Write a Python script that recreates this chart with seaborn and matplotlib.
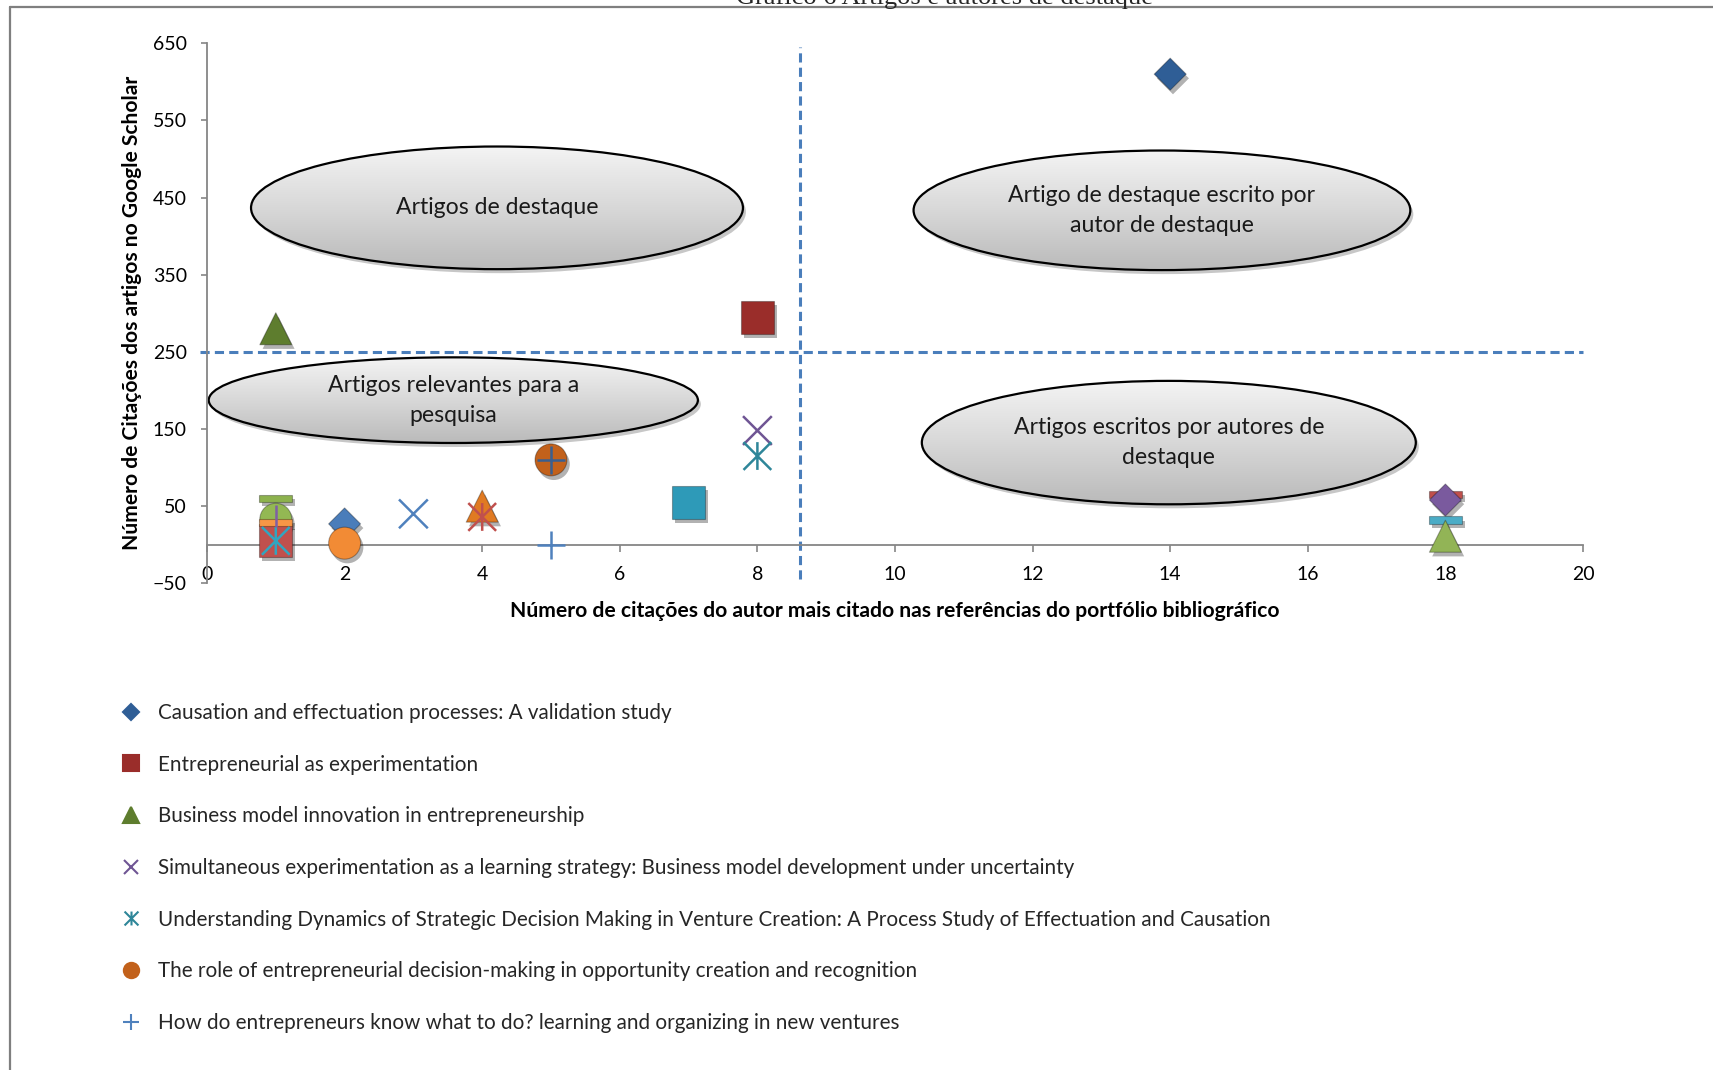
import numpy as np
import pandas as pd
import matplotlib
matplotlib.use("Agg")
import matplotlib.pyplot as plt
import seaborn as sns
from matplotlib.patches import Ellipse
from matplotlib.lines import Line2D
from matplotlib.markers import MarkerStyle
from matplotlib.path import Path
from matplotlib.colors import LinearSegmentedColormap
from matplotlib.transforms import offset_copy
import matplotlib.patheffects as pe

sns.set_theme(style="white")
plt.rcParams["font.family"] = ["Lato", "DejaVu Sans"]

# Títulos dos artigos mostrados na legenda
titulos = [
    "Causation and effectuation processes: A validation study",
    "Entrepreneurial as experimentation",
    "Business model innovation in entrepreneurship",
    "Simultaneous experimentation as a learning strategy: Business model development under uncertainty",
    "Understanding Dynamics of Strategic Decision Making in Venture Creation: A Process Study of Effectuation and Causation",
    "The role of entrepreneurial decision-making in opportunity creation and recognition",
    "How do entrepreneurs know what to do? learning and organizing in new ventures",
]

# Cada ponto é um artigo do portfólio (ordem de desenho: os últimos ficam por cima)
cit_autor = [14, 8, 1, 5, 18, 18, 18, 18, 7, 4, 2, 2, 1, 1, 1, 1,
             8, 8, 5, 3, 4, 5, 1, 1]
cit_google = [610, 295, 280, 110, 65, 58, 32, 11, 55, 50, 27, 2, 60, 33, 5, 29,
              148, 115, 0, 40, 36, 110, 5, 37]

# Marcador e cor de cada ponto
forma = ["losango", "quadrado", "triangulo", "circulo", "barra", "losango", "barra",
         "triangulo", "quadrado", "triangulo", "losango", "circulo", "barra", "circulo",
         "quadrado", "barra", "x", "estrela", "mais", "x", "estrela", "mais", "estrela",
         "traco"]
cor = ["#2F5E96", "#9A2D2A", "#5E7D2E", "#C2611B", "#C0504D", "#7A5A9E", "#4BACC6",
       "#92B456", "#2E9AB8", "#E07A22", "#4A7DBA", "#F28B35", "#8DB24E", "#93B853",
       "#C0504D", "#F79646", "#6F5594", "#2E8699", "#4F81BD", "#4F81BD", "#C0504D",
       "#3A5F8F", "#31A5C0", "#7F5FA5"]

# Ponto que representa cada título da legenda
ponto_legenda = [0, 1, 2, 16, 17, 3, 18]

# Limiares que dividem os quadrantes
LIMIAR_GOOGLE = 250
LIMIAR_AUTOR = 8.62

# Rótulos das regiões
regioes = ["Artigos de destaque",
           "Artigo de destaque escrito por\nautor de destaque",
           "Artigos relevantes para a\npesquisa",
           "Artigos escritos por autores de\ndestaque"]

# marcadores especiais
barra = MarkerStyle([(-1, -0.22), (1, -0.22), (1, 0.22), (-1, 0.22), (-1, -0.22)])
estrela_path = Path([(-1, -1), (1, 1), (-1, 1), (1, -1), (0, -1), (0, 1)],
                    [Path.MOVETO, Path.LINETO, Path.MOVETO, Path.LINETO,
                     Path.MOVETO, Path.LINETO])
estrela = MarkerStyle(estrela_path, fillstyle="none")

marcadores = {"losango": "D", "quadrado": "s", "triangulo": "^", "circulo": "o",
              "barra": barra, "x": "x", "mais": "+", "estrela": estrela, "traco": "|"}
tamanhos = {"losango": 265, "quadrado": 560, "triangulo": 530, "circulo": 530,
            "barra": 560, "x": 430, "mais": 400, "estrela": 400, "traco": 250}

W, H = 1713, 1070
fig = plt.figure(figsize=(W / 100, H / 100), dpi=100)
ax = fig.add_axes([207 / W, 1 - 583.3 / H, 1376 / W, 540 / H])

df = pd.DataFrame({"x": cit_autor, "y": cit_google, "forma": forma, "cor": cor})
cheios = ["losango", "quadrado", "triangulo", "circulo", "barra"]
df_cheio = df[df["forma"].isin(cheios)]
df_linha = df[~df["forma"].isin(cheios)]

# regiões em elipse com degradê cinza
cinza = LinearSegmentedColormap.from_list("cinza", ["#f4f4f4", "#d8d8d8", "#bababa"])
grad = np.linspace(0, 1, 256).reshape(-1, 1)
centros = [(4.215, 436.7, 7.15, 159), (13.88, 433.5, 7.22, 155),
           (3.58, 187.4, 7.11, 111), (13.98, 132.4, 7.18, 160)]
sombra_tr = offset_copy(ax.transData, fig=fig, x=3, y=-4, units="dots")
for (cx, cy, w, h), txt in zip(centros, regioes):
    ax.add_patch(Ellipse((cx, cy), w, h, transform=sombra_tr, facecolor="black",
                         alpha=0.22, lw=0, zorder=1))
    el = Ellipse((cx, cy), w, h, facecolor="none", edgecolor="black", lw=1.6, zorder=2.5)
    ax.add_patch(el)
    im = ax.imshow(grad, cmap=cinza, extent=(cx - w / 2, cx + w / 2, cy - h / 2, cy + h / 2),
                   aspect="auto", zorder=2, interpolation="bilinear")
    im.set_clip_path(el)
    ax.text(cx, cy, txt, ha="center", va="center", fontsize=16.6, linespacing=1.52,
            color="#1a1a1a", zorder=3)

# linhas de corte dos quadrantes
ax.plot([-0.1, 20.0], [LIMIAR_GOOGLE, LIMIAR_GOOGLE], ls=(0, (3, 1.7)), color="#4A7EBB",
        lw=2.2, clip_on=False, zorder=2)
ax.plot([LIMIAR_AUTOR, LIMIAR_AUTOR], [-45, 645], ls=(0, (3, 1.7)), color="#4A7EBB",
        lw=2.2, clip_on=False, zorder=2)

# pontos com marcador cheio
sns.scatterplot(data=df_cheio, x="x", y="y", hue="cor",
                palette={c: c for c in df_cheio["cor"]},
                style="forma", markers={k: marcadores[k] for k in cheios},
                size="forma", sizes={k: tamanhos[k] for k in cheios},
                edgecolor=(0, 0, 0, 0.3), linewidth=0.8, legend=False, ax=ax,
                zorder=4, clip_on=False)
ax.collections[-1].set_path_effects([
    pe.SimplePatchShadow(offset=(2, -3), shadow_rgbFace="black", alpha=0.3),
    pe.Normal()])

# pontos com marcador de traço
linhas = ["x", "mais", "estrela", "traco"]
sns.scatterplot(data=df_linha, x="x", y="y", hue="cor",
                palette={c: c for c in df_linha["cor"]},
                style="forma", style_order=linhas,
                markers={k: marcadores[k] for k in linhas},
                size="forma", sizes={k: tamanhos[k] for k in linhas},
                linewidth=1.8, legend=False, ax=ax, zorder=5, clip_on=False)

ax.set_xlim(0, 20)
ax.set_ylim(-50, 650)
ax.set_xticks(np.arange(0, 21, 2))
ax.set_yticks(np.arange(-50, 651, 100))

for s in ["top", "right"]:
    ax.spines[s].set_visible(False)
for s in ["left", "bottom"]:
    ax.spines[s].set_color("#868686")
    ax.spines[s].set_linewidth(1.3)
ax.spines["bottom"].set_position(("data", 0))
ax.tick_params(axis="both", bottom=True, left=True, direction="out", color="#868686",
               width=1.2, labelsize=14, labelcolor="black")
ax.tick_params(axis="x", length=5, pad=10.5)
ax.tick_params(axis="y", length=4.5, pad=10)

ax.set_xlabel("Número de citações do autor mais citado nas referências do portfólio bibliográfico",
              fontsize=15.2, fontweight="bold", color="black")
ax.set_ylabel("Número de Citações dos artigos no Google Scholar",
              fontsize=15.1, fontweight="bold", color="black")
ax.xaxis.set_label_coords(0.5, -0.033)
ax.yaxis.set_label_coords(-0.047, 0.5)

# legenda
handles = []
msz = {"losango": 8, "quadrado": 11, "triangulo": 11, "circulo": 11, "x": 10,
       "mais": 11, "estrela": 10}
for i in ponto_legenda:
    handles.append(Line2D([], [], linestyle="none", marker=marcadores[forma[i]],
                          color=cor[i], markersize=msz[forma[i]], markeredgewidth=1.5))
ax.legend(handles, titulos, loc="upper left", bbox_to_anchor=(120.6 / W, 1 - 703 / H),
          bbox_transform=fig.transFigure, frameon=False, fontsize=14.9,
          labelspacing=1.53, handlelength=1.0, handletextpad=0.8, borderpad=0,
          borderaxespad=0)

# moldura e título da figura
fig.add_artist(Line2D([10 / W, 1], [1 - 7 / H, 1 - 7 / H], transform=fig.transFigure,
                      color="#7f7f7f", lw=1.6))
fig.add_artist(Line2D([10 / W, 10 / W], [0, 1 - 7 / H], transform=fig.transFigure,
                      color="#7f7f7f", lw=1.6))
fig.text(944 / W, 1 - 4 / H, "Gráfico 6 Artigos e autores de destaque", ha="center",
         va="baseline", fontsize=19, family="Liberation Serif")

fig.savefig("out.png", dpi=100, facecolor="white")
